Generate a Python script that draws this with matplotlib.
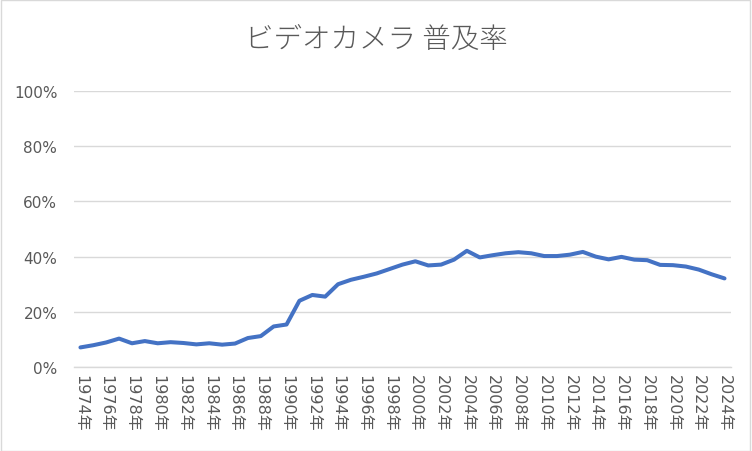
import numpy as np
import matplotlib
matplotlib.use("Agg")
from matplotlib import pyplot as plt
from matplotlib.patches import Rectangle
from matplotlib.ticker import FuncFormatter

plt.rcParams['font.family'] = ['DejaVu Sans', 'Noto Sans CJK JP']

# data: ownership rate of video cameras (%)
years = list(range(1974, 2025))
rate = [7.1, 7.9, 8.9, 10.3, 8.6, 9.4, 8.6, 9.0, 8.7, 8.2,
        8.6, 8.1, 8.5, 10.5, 11.2, 14.7, 15.4, 24.0, 26.1, 25.5,
        30.0, 31.6, 32.7, 33.9, 35.5, 37.1, 38.3, 36.8, 37.1, 38.9,
        42.1, 39.7, 40.5, 41.2, 41.6, 41.2, 40.2, 40.2, 40.7, 41.7,
        40.0, 39.0, 39.9, 38.9, 38.7, 37.0, 36.9, 36.4, 35.3, 33.6,
        32.1]
title = "ビデオカメラ 普及率"

x = np.arange(len(years))
text_col = "#595959"

fig = plt.figure(figsize=(7.52, 4.52), dpi=100)
ax = fig.add_axes([0.0984, 0.1858, 0.8736, 0.6107])

ax.plot(x, rate, color="#4472C4", lw=2.9, solid_joinstyle="round",
        solid_capstyle="round", zorder=3)

ax.set_xlim(-0.5, len(years) - 0.5)
ax.set_ylim(0, 100)
ax.set_yticks(np.arange(0, 101, 20))
ax.yaxis.set_major_formatter(FuncFormatter(lambda v, p: "{:d}%".format(int(v))))
ax.grid(axis="y", color="#D9D9D9", lw=1.0)
ax.set_axisbelow(True)

ax.set_xticks(x[::2])
ax.set_xticklabels(["{}年".format(y) for y in years[::2]], rotation=-90,
                   fontsize=11.5, color=text_col)
ax.tick_params(axis="both", length=0, colors=text_col)
ax.tick_params(axis="y", labelsize=11, pad=12)
ax.tick_params(axis="x", pad=5)

for s in ["top", "right", "left"]:
    ax.spines[s].set_visible(False)
ax.spines["bottom"].set_color("#D9D9D9")
ax.spines["bottom"].set_linewidth(1.0)

fig.text(0.5, 0.912, title, ha="center", va="center", fontsize=20.5,
         color=text_col, family=['Noto Sans CJK JP', 'DejaVu Sans'], weight="light")

# thin border around the chart
fig.patches.append(Rectangle((0.001, 0.001), 0.997, 0.997, transform=fig.transFigure,
                             fill=False, edgecolor="#D9D9D9", lw=1.0))

fig.savefig("out.png", dpi=100)
